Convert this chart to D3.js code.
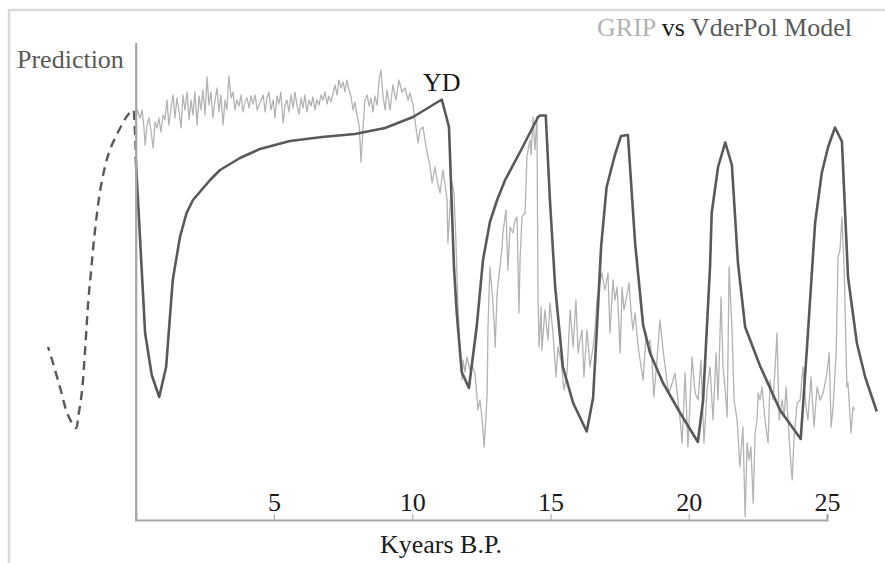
<!DOCTYPE html>
<html>
<head>
<meta charset="utf-8">
<script src="https://cdn.jsdelivr.net/npm/d3@7"></script>
<style>
  html, body { margin: 0; padding: 0; background: #fff; }
  svg { display: block; font-family: "Liberation Serif", "Times New Roman", serif; }
</style>
</head>
<body>
<svg id="chart" width="885" height="563"></svg>
<script>
// ---- GRIP ice-core record (age in kyr B.P., relative isotope level) ----
const gripAge = [
  0.01,0.08,0.16,0.23,0.30,0.34,0.41,0.48,0.55,0.63,0.70,0.77,0.84,0.91,0.99,1.06,1.13,1.20,1.28,1.35,
  1.42,1.49,1.57,1.64,1.71,1.78,1.86,1.93,2.00,2.07,2.14,2.22,2.29,2.36,2.43,2.51,2.58,2.65,2.72,2.79,
  2.87,2.94,3.01,3.08,3.16,3.23,3.30,3.37,3.45,3.52,3.59,3.66,3.74,3.81,3.88,3.95,4.03,4.10,4.17,4.24,
  4.32,4.39,4.46,
  4.54,4.61,4.68,4.75,4.82,4.89,4.97,5.04,5.11,5.18,5.25,5.33,5.40,5.47,5.54,5.62,5.69,5.76,5.83,5.91,
  5.98,6.05,6.12,6.19,6.27,6.34,6.41,6.48,6.56,6.63,6.70,6.77,6.85,6.92,6.99,7.06,7.14,7.21,7.28,7.35,
  7.43,7.50,7.57,7.64,7.71,7.79,7.86,7.93,8.00,8.08,8.15,8.22,8.29,8.37,8.44,8.51,8.58,8.65,8.73,8.80,
  8.87,8.94,9.02,
  9.09,9.20,9.30,9.41,9.52,9.63,9.74,9.85,9.92,10.03,10.10,10.21,10.28,10.39,10.46,10.54,10.64,10.72,10.82,10.90,
  11.01,11.11,11.19,11.26,11.29,11.37,11.44,11.51,11.58,11.62,11.66,11.73,11.80,11.84,11.91,11.98,12.09,12.16,12.27,12.38,
  12.45,12.53,12.60,12.67,12.71,12.74,12.81,12.89,12.96,13.00,13.07,13.14,13.25,13.28,13.39,13.46,
  13.54,13.64,13.72,13.79,13.86,13.90,13.97,14.08,14.15,14.19,14.26,14.30,14.37,14.44,14.51,14.55,14.59,14.66,14.69,14.80,
  14.91,14.98,15.09,15.20,15.27,15.38,15.49,15.60,15.71,15.82,15.92,16.00,16.07,16.14,16.21,16.32,16.43,16.54,16.61,16.68,
  16.79,16.86,16.97,17.08,17.15,17.26,17.33,17.41,17.52,17.59,17.66,17.73,17.84,17.91,17.98,
  18.06,18.17,18.24,18.35,18.46,18.53,18.60,18.67,18.74,18.85,18.96,19.07,19.14,19.22,19.29,19.40,19.50,19.61,19.69,19.76,
  19.87,19.97,20.05,20.12,20.23,20.34,20.44,20.55,20.66,20.77,20.88,20.99,21.06,21.17,21.24,21.32,21.39,21.46,21.57,21.64,
  21.75,21.85,21.96,22.04,22.11,22.18,22.25,22.33,22.40,22.47,
  22.51,22.58,22.65,22.76,22.87,22.94,23.05,23.12,23.19,23.27,23.38,23.45,23.52,23.59,23.66,23.74,23.81,23.92,24.03,24.13,
  24.24,24.31,24.42,24.53,24.64,24.75,24.86,24.93,25.00,25.08,25.15,25.22,25.33,25.40,25.47,25.54,25.62,25.72,25.76,25.87,
  25.94,26.01
];
const gripLevel = [
  82.6,81.6,80.4,82.0,78.4,75.0,79.0,80.4,78.0,74.4,79.6,78.4,80.4,77.6,81.0,80.0,84.0,79.0,82.4,85.0,
  80.4,84.4,81.6,78.4,85.0,82.0,85.6,80.0,84.0,81.0,85.6,79.0,84.8,82.0,86.0,81.0,88.6,83.0,85.6,80.4,
  84.0,86.4,81.6,85.0,79.0,84.0,82.0,88.8,84.4,85.6,82.0,84.0,82.8,85.0,81.6,83.6,84.4,82.4,84.8,83.2,
  85.0,82.0,83.0,
  84.0,85.0,81.6,84.4,85.6,82.0,84.0,80.4,84.8,83.2,85.6,79.4,83.0,84.0,81.6,85.0,82.4,85.6,83.0,81.2,
  84.4,82.4,85.0,81.6,84.0,82.8,84.6,82.0,84.0,83.0,85.0,84.0,85.6,83.2,84.8,83.6,85.4,87.0,85.0,88.0,
  86.4,87.6,85.6,88.0,86.0,84.6,82.0,83.6,81.0,79.0,71.6,78.4,84.0,85.0,82.8,84.4,81.6,84.8,83.0,88.0,
  90.0,85.0,82.0,
  86.0,82.0,87.0,84.0,88.0,85.6,86.4,84.0,85.4,83.0,80.0,75.4,78.0,78.6,76.0,73.4,71.0,67.4,70.6,68.0,
  65.4,70.0,67.0,64.0,55.4,63.0,67.4,65.4,56.0,48.6,42.0,33.4,28.0,32.0,29.6,32.6,30.0,31.0,29.4,22.0,
  24.0,20.0,14.6,21.0,25.4,38.6,50.6,45.4,40.0,34.6,45.4,49.0,54.6,57.4,62.0,50.0,
  58.6,57.4,60.0,60.6,41.4,52.0,60.6,61.4,72.6,74.0,76.0,73.0,80.6,74.0,80.6,44.0,34.6,42.6,34.0,42.0,
  36.0,43.4,37.4,28.6,34.6,32.0,26.0,29.4,42.0,34.6,44.0,33.4,36.0,38.0,28.6,38.0,30.6,34.6,38.0,44.0,
  47.4,49.4,46.0,49.4,37.4,48.0,44.0,46.6,33.4,46.6,42.0,44.0,47.4,42.0,38.0,
  41.4,34.6,32.0,28.0,37.4,35.0,36.0,32.0,24.6,32.0,40.0,34.0,31.0,27.4,25.4,27.4,29.4,24.0,20.0,15.4,
  29.4,14.6,24.0,32.6,25.4,24.0,32.0,15.4,26.0,30.6,20.0,33.4,24.0,44.6,30.6,26.0,20.6,50.6,37.4,24.0,
  20.0,10.6,18.6,0.6,15.4,12.0,14.6,3.4,17.4,20.0,
  25.4,24.0,26.6,20.0,15.4,28.0,24.0,30.0,37.4,20.0,24.0,20.6,26.6,20.0,14.0,8.0,16.6,23.4,24.0,30.6,
  22.6,20.0,28.6,18.6,26.6,24.0,25.4,27.4,29.4,33.4,18.6,22.6,33.4,52.6,54.0,60.6,50.6,26.6,27.4,17.4,
  22.6,22.0
];

// ---- Van der Pol relaxation-oscillator prediction ----
const modelAge = [
  0.00,0.16,0.34,0.58,0.85,1.10,1.34,1.60,1.84,2.07,2.32,2.69,3.05,3.77,4.49,5.58,6.74,7.93,9.02,10.03,11.07,11.33,
  11.51,11.61,11.79,12.05,12.33,12.56,12.81,13.07,13.36,13.90,14.55,14.62,14.83,14.98,15.17,15.45,15.82,16.31,16.54,16.67,
  16.83,17.03,17.33,17.55,17.80,18.06,18.35,18.60,19.07,19.69,20.33,20.52,20.77,20.83,21.06,21.32,21.56,21.78,22.04,22.58,
  23.30,24.05,24.27,24.57,24.81,25.04,25.29,25.54,25.76,26.08,26.38,26.80
];
const modelLevel = [
  72.6,56.0,37.4,29.0,24.6,30.6,48.0,56.6,61.4,64.0,65.6,68.0,70.0,72.4,74.2,75.8,76.6,77.2,78.4,80.6,84.1,78.6,
  50.6,41.4,29.6,26.4,38.6,52.0,59.6,64.0,68.0,73.6,80.6,80.9,80.9,64.0,46.6,30.6,23.4,17.7,24.4,37.4,
  54.6,66.6,73.0,76.8,77.0,55.4,39.0,33.4,27.4,21.4,15.6,24.0,50.6,61.4,70.6,75.5,71.0,51.4,38.6,30.8,
  22.0,16.2,34.0,59.4,69.4,74.6,78.5,75.7,48.6,35.4,28.6,21.7
];

// Extrapolation of the oscillator into the future (negative ages)
const futureAge = [0.00,-0.04,-0.10,-0.31,-0.60,-0.96,-1.25,-1.47,-1.61,-1.72,-1.83,-1.95,-2.07,-2.16,-2.45,-2.74,-2.99,-3.17];
const futureLevel = [74.0,79.0,82.0,80.8,78.0,73.6,67.0,58.0,50.0,43.4,34.0,25.4,21.0,18.4,21.0,26.6,31.4,34.6];

const xTicks = [5, 10, 15, 20, 25];
const xDomain = [0, 25];
const yDomain = [0, 96];

const titleParts = [
  { text: "GRIP", color: "#b3b3b3" },
  { text: " vs ", color: "#1a1a1a" },
  { text: "VderPol Model", color: "#595959" }
];

// ---- layout ----
const svg = d3.select("#chart");
const W = 885, H = 563;

const x = d3.scaleLinear().domain(xDomain).range([135.7, 827]);
const y = d3.scaleLinear().domain(yDomain).range([520, 40]);

// outer frame
svg.append("rect")
  .attr("x", 9).attr("y", 10)
  .attr("width", W + 20).attr("height", H + 20)
  .attr("fill", "none")
  .attr("stroke", "#d9d9d9")
  .attr("stroke-width", 2.5);

const toPts = (a, v) => a.map((d, i) => [d, v[i]]);
const line = d3.line().x(d => x(d[0])).y(d => y(d[1]));

// GRIP record
svg.append("path")
  .datum(toPts(gripAge, gripLevel))
  .attr("d", line)
  .attr("fill", "none")
  .attr("stroke", "#b3b3b3")
  .attr("stroke-width", 1.3)
  .attr("stroke-linejoin", "round");

// model prediction
svg.append("path")
  .datum(toPts(modelAge, modelLevel))
  .attr("d", line)
  .attr("fill", "none")
  .attr("stroke", "#595959")
  .attr("stroke-width", 2.6)
  .attr("stroke-linejoin", "round");

// future extrapolation (dashed, smoothed)
const smoothLine = d3.line().x(d => x(d[0])).y(d => y(d[1])).curve(d3.curveCatmullRom.alpha(0.5));
svg.append("path")
  .datum(toPts(futureAge, futureLevel))
  .attr("d", smoothLine)
  .attr("fill", "none")
  .attr("stroke", "#595959")
  .attr("stroke-width", 2.4)
  .attr("stroke-dasharray", "9,6");

// x axis: ticks and labels sit above the line
const xAxis = d3.axisTop(x).tickValues(xTicks).tickSize(6).tickSizeOuter(6).tickPadding(3).tickFormat(d3.format("d"));
const gx = svg.append("g").attr("transform", `translate(0,${y(0)})`).call(xAxis);
gx.select(".domain").attr("stroke", "#a6a6a6").attr("stroke-width", 2.2);
gx.selectAll(".tick line").attr("stroke", "#a6a6a6").attr("stroke-width", 1);
gx.selectAll(".tick text")
  .attr("fill", "#1a1a1a")
  .style("font-family", "'Liberation Serif', serif")
  .style("font-size", "26px");

// y axis: bare line
const yAxis = d3.axisLeft(y.copy().domain([0, 95.5]).range([y(0), y(95.5)])).tickValues([]).tickSizeOuter(0);
const gy = svg.append("g").attr("transform", `translate(${x(0)},0)`).call(yAxis);
gy.select(".domain").attr("stroke", "#a6a6a6").attr("stroke-width", 2.2);

// labels
svg.append("text")
  .attr("x", 17).attr("y", 68)
  .attr("fill", "#595959")
  .style("font-size", "26px")
  .text("Prediction");

svg.append("text")
  .attr("x", 441).attr("y", 553)
  .attr("text-anchor", "middle")
  .attr("fill", "#1a1a1a")
  .style("font-size", "26px")
  .text("Kyears B.P.");

svg.append("text")
  .attr("x", x(11.07)).attr("y", 91)
  .attr("text-anchor", "middle")
  .attr("fill", "#1a1a1a")
  .style("font-size", "26px")
  .text("YD");

const title = svg.append("text")
  .attr("x", 852).attr("y", 36)
  .attr("text-anchor", "end")
  .style("font-size", "26px");
titleParts.forEach(p => title.append("tspan").attr("fill", p.color).text(p.text));
</script>
</body>
</html>
